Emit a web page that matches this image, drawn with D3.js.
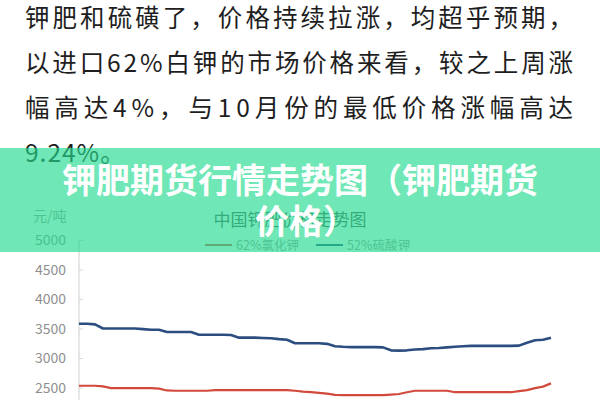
<!DOCTYPE html>
<html>
<head>
<meta charset="utf-8">
<script src="https://cdn.jsdelivr.net/npm/d3@7"></script>
<style>
  html, body { margin: 0; padding: 0; background: #fff; }
  svg { display: block; }
  text { font-family: "Noto Sans CJK SC", "Noto Sans", sans-serif; }
</style>
</head>
<body>
<div id="chart"></div>
<script>
// ---- data ----
const bodyLines = [
  "钾肥和硫磺了，价格持续拉涨，均超乎预期，",
  "以进口62%白钾的市场价格来看，较之上周涨",
  "幅高达4%，与10月份的最低价格涨幅高达",
  "9.24%。"
];
const bannerTitle = ["钾肥期货行情走势图（钾肥期货", "价格）"];
const chartTitle = "中国钾肥价格走势图";
const unitLabel = "元/吨";
const seriesNames = ["62%氯化钾", "52%硫酸钾"];
const yTicks = [2500, 3000, 3500, 4000, 4500, 5000];
// 52%硫酸钾 (blue, upper line)
const sulfateValues = [3580,3580,3570,3500,3500,3500,3500,3500,3490,3480,3480,3440,3440,3440,3440,3395,3395,3395,3395,3390,
  3345,3345,3345,3340,3335,3320,3310,3250,3250,3250,3250,3240,3200,3190,3185,3185,3185,3185,3180,3130,
  3125,3130,3145,3150,3165,3170,3180,3190,3200,3205,3205,3205,3205,3205,3205,3210,3260,3300,3310,3345];
// 62%氯化钾 (red, lower line)
const chlorideValues = [2530,2530,2530,2520,2490,2490,2490,2490,2490,2490,2480,2450,2445,2445,2445,2445,2445,2455,2455,2455,
  2455,2455,2455,2455,2455,2455,2455,2445,2430,2420,2410,2395,2375,2370,2370,2370,2370,2370,2370,2380,
  2390,2420,2445,2445,2445,2445,2445,2420,2420,2420,2420,2420,2420,2420,2420,2440,2455,2490,2515,2570];

// ---- drawing ----
const W = 600, H = 400;
const svg = d3.select("#chart").append("svg").attr("width", W).attr("height", H);
svg.append("rect").attr("width", W).attr("height", H).attr("fill", "#fff");

// article text
const bodyBaselines = [27, 72, 117, 162];
bodyLines.forEach((t, i) => {
  const el = svg.append("text")
    .attr("x", 25).attr("y", bodyBaselines[i])
    .attr("font-size", 24.5)
    .attr("fill", "#1e1e1e")
    .text(t);
  if (i < 3) el.attr("textLength", 548).attr("lengthAdjust", "spacing");
  else el.attr("letter-spacing", 1);
});

// chart
const x = d3.scaleLinear().domain([0, sulfateValues.length - 1]).range([79, 551]);
const y = d3.scaleLinear().domain([2500, 5000]).range([387.5, 240]);

const g = svg.append("g");
// y axis
const yAxis = d3.axisRight(y).tickValues(yTicks).tickSize(4).tickFormat("");
const ax = g.append("g").attr("transform", "translate(79,0)").call(yAxis);
ax.select(".domain").attr("d", `M0,${y(5000)}V${H + 5}`).attr("stroke", "#cfcfcf");
ax.selectAll(".tick line").attr("stroke", "#d8d8d8");

g.selectAll("text.ylab").data(yTicks).join("text")
  .attr("class", "ylab")
  .attr("x", 66).attr("y", d => y(d))
  .attr("dy", "0.36em")
  .attr("text-anchor", "end")
  .attr("font-size", 14)
  .attr("fill", "#8f8f8f")
  .text(d => d);

g.append("text").attr("x", 33).attr("y", 221).attr("font-size", 14)
  .attr("fill", "#9a9a9a").text(unitLabel);

g.append("text").attr("x", 290).attr("y", 226).attr("text-anchor", "middle")
  .attr("font-size", 17).attr("fill", "#555").text(chartTitle);

// legend
const legendColors = ["#c8503f", "#2c4d80"];
const legendX = [205, 316];
seriesNames.forEach((n, i) => {
  g.append("line").attr("x1", legendX[i]).attr("x2", legendX[i] + 27)
    .attr("y1", 245).attr("y2", 245).attr("stroke", legendColors[i]).attr("stroke-width", 2);
  g.append("text").attr("x", legendX[i] + 31).attr("y", 249.5)
    .attr("font-size", 12.5).attr("fill", "#9a9a9a").text(n);
});

const line = d3.line().x((d, i) => x(i)).y(d => y(d));
g.append("path").datum(chloridesSafe()).attr("d", line)
  .attr("fill", "none").attr("stroke", "#d24a3b").attr("stroke-width", 2.2)
  .attr("stroke-linejoin", "round");
g.append("path").datum(sulfateValues).attr("d", line)
  .attr("fill", "none").attr("stroke", "#2c4d80").attr("stroke-width", 2.6)
  .attr("stroke-linejoin", "round");
function chloridesSafe() { return chlorideValues; }

// banner overlay
svg.append("rect").attr("x", 0).attr("y", 148).attr("width", W).attr("height", 104)
  .attr("fill", "rgb(35,218,143)").attr("fill-opacity", 0.65);

const tb = [193, 234];
bannerTitle.forEach((t, i) => {
  svg.append("text").attr("x", i === 0 ? 300 : 306).attr("y", tb[i])
    .attr("text-anchor", "middle")
    .attr("font-size", 34).attr("font-weight", 700)
    .attr("fill", "#fff").text(t);
});
</script>
</body>
</html>
